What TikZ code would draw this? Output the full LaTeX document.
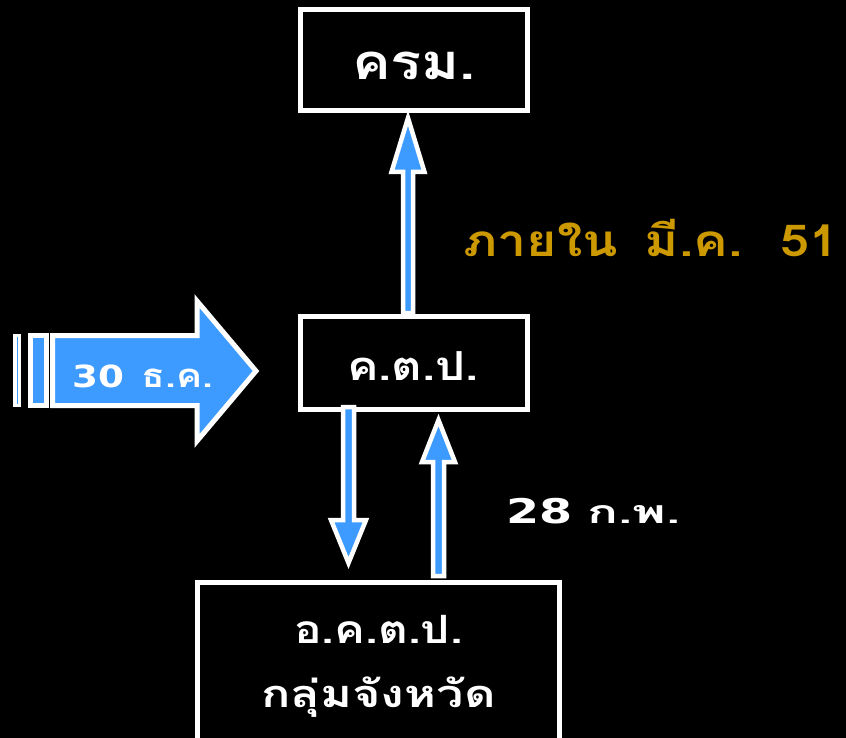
\documentclass[tikz,border=0pt]{standalone}
\usepackage{fontspec}
\newfontfamily\thaifont[Script=Thai, FakeStretch=1.18]{Loma Bold}
\newfontfamily\thaiwide[Script=Thai, FakeStretch=1.6]{Loma Bold}
\newfontfamily\digfont[FakeStretch=1.22]{DejaVu Sans Bold}
\newfontfamily\digwide[FakeStretch=1.4]{DejaVu Sans Bold}
\definecolor{arrowblue}{HTML}{3D9BFF}
\definecolor{gold}{HTML}{CC9900}
\newcommand{\fsz}[1]{\fontsize{#1}{#1}\selectfont}
\tikzset{
  box/.style={draw=white, line width=5pt, fill=black, minimum width=227pt, minimum height=101pt, inner sep=0pt},
  blockarrow/.style={fill=arrowblue, draw=white, line width=5pt, line join=miter},
  thinarrow/.style={fill=arrowblue, draw=white, line width=4.5pt, line join=miter},
  lbl/.style={text=white, font=\thaifont\fsz{40}, inner sep=0pt, anchor=base},
}
\begin{document}
\begin{tikzpicture}[x=1pt,y=-1pt]
\useasboundingbox[fill=black] (0,0) rectangle (846,738);
% boxes
\node[box] (crm) at (413.5,60) {};
\node[lbl, font=\thaifont\fsz{49}] (crmt) at (414,80) {ครม.};
\node[box, minimum height=93pt] (ktp) at (413.5,362.5) {};
\node[lbl] (ktpt) at (413,380) {ค.ต.ป.};
\node[box, minimum width=362pt, minimum height=170pt] (oktp) at (378.75,667) {};
\node[lbl, font=\thaifont\fsz{39}] (oktp1) at (378.5,643) {อ.ค.ต.ป.};
\node[lbl, font=\thaifont\fsz{38}] (oktp2) at (378.5,707) {\addfontfeature{FakeStretch=1.28}กลุ่มจังหวัด};
% up arrow ktp -> crm
\draw[thinarrow] (403,313) -- (403,172) -- (391.5,172) -- (408,118) -- (424.5,172) -- (413,172) -- (413,313) -- cycle;
% down arrow ktp -> oktp
\draw[thinarrow] (343,407) -- (343,520) -- (331,520) -- (348.5,563) -- (366,520) -- (354,520) -- (354,407) -- cycle;
% up arrow oktp -> ktp
\draw[thinarrow] (433,576) -- (433,462) -- (422,462) -- (438.5,420) -- (455,462) -- (444,462) -- (444,576) -- cycle;
% big right arrow
\draw[blockarrow] (52.5,335.5) -- (197,335.5) -- (197,301) -- (256,371) -- (197,441) -- (197,405.5) -- (52.5,405.5) -- cycle;
\draw[blockarrow] (30,335.5) rectangle (46,405.5);
\draw[fill=arrowblue, draw=white, line width=3.5pt] (15,335.5) rectangle (19.5,405.5);
\node[lbl, font=\thaifont\fsz{33}, anchor=base west] (d30) at (72,387) {{\digfont\fsz{30.5}30}\hspace{18pt}ธ.ค.};
% labels
\node[lbl, text=gold, font=\thaifont\fsz{44}, anchor=base west] (in51) at (463,257) {ภายใน\hspace{27pt}มี.ค.\hspace{38pt}51};
\node[lbl, font=\thaiwide\fsz{32}, anchor=base west] (f28) at (506,523) {{\digwide\fsz{34}28}\hspace{15pt}ก.พ.};
\end{tikzpicture}
\end{document}
